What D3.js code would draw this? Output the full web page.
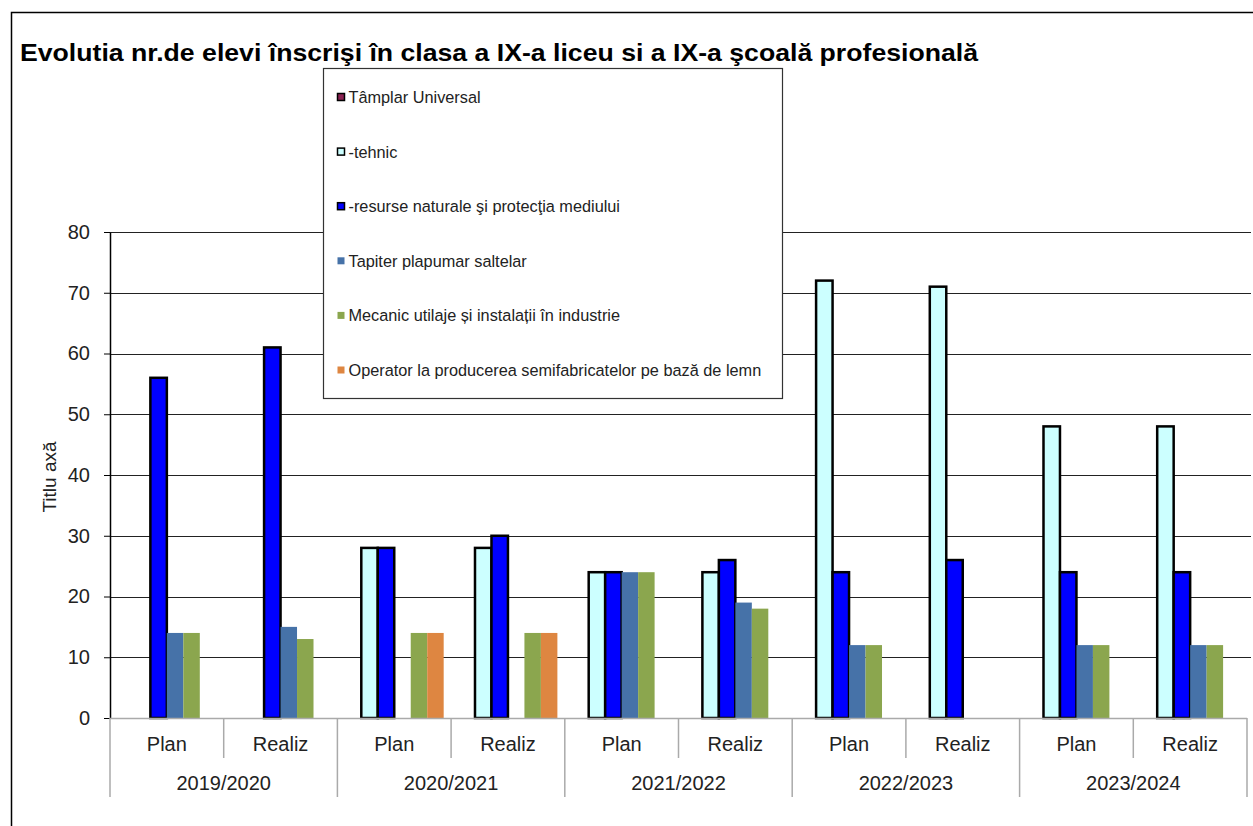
<!DOCTYPE html>
<html>
<head>
<meta charset="utf-8">
<script src="https://cdn.jsdelivr.net/npm/d3@7"></script>
<style>
  body { margin: 0; background: #fff; }
  svg { font-family: "Liberation Sans", Arial, sans-serif; }
</style>
</head>
<body>
<div id="chart"></div>
<script>
// chart data
const years = ['2019/2020', '2020/2021', '2021/2022', '2022/2023', '2023/2024'];
const kinds = ['Plan', 'Realiz'];
const seriesNames = [
  'Tâmplar Universal',
  '-tehnic',
  '-resurse naturale şi protecţia mediului',
  'Tapiter plapumar saltelar',
  'Mecanic utilaje și instalații în industrie',
  'Operator la producerea semifabricatelor pe bază de lemn'
];
// one value per category: 2019 Plan, 2019 Realiz, 2020 Plan, ...
const tamplar  = [0, 0, 0, 0, 0, 0, 0, 0, 0, 0];
const tehnic   = [0, 0, 28, 28, 24, 24, 72, 71, 48, 48];
const resurse  = [56, 61, 28, 30, 24, 26, 24, 26, 24, 24];
const tapiter  = [14, 15, 0, 0, 24, 19, 12, 0, 12, 12];
const mecanic  = [14, 13, 14, 14, 24, 18, 12, 0, 12, 12];
const operator = [0, 0, 14, 14, 0, 0, 0, 0, 0, 0];
const yTicks = [0, 10, 20, 30, 40, 50, 60, 70, 80];

const seriesValues = [tamplar, tehnic, resurse, tapiter, mecanic, operator];
const colors = ['#8B2252', '#CCFFFF', '#0000FF', '#4672A8', '#8BA64E', '#DE8641'];
const outlined = [true, true, true, false, false, false];

const width = 1253, height = 826;
const margin = {top: 232, right: 6, bottom: 108, left: 110};

const svg = d3.select('#chart').append('svg')
  .attr('width', width).attr('height', height);

// outer frame
svg.append('path')
  .attr('d', `M11.5,${height} V12.5 H${width}`)
  .attr('fill', 'none').attr('stroke', '#000').attr('stroke-width', 1.5);

svg.append('text')
  .attr('x', 20).attr('y', 61)
  .attr('font-size', 24.5).attr('font-weight', 'bold')
  .attr('textLength', 958).attr('lengthAdjust', 'spacingAndGlyphs')
  .text('Evolutia nr.de elevi înscrişi în  clasa a IX-a liceu si a IX-a şcoală profesională');

const categories = [];
years.forEach(y => kinds.forEach(k => categories.push(y + '|' + k)));

const plotW = width - margin.left - margin.right;
const plotH = height - margin.top - margin.bottom;

const x = d3.scaleBand(categories, [0, plotW]);
const xInner = d3.scaleBand(d3.range(seriesNames.length), [0, x.bandwidth()])
  .paddingInner(0).paddingOuter(0.45);
const y = d3.scaleLinear([0, 80], [plotH, 0]);

const chart = svg.append('g')
  .attr('transform', `translate(${margin.left},${margin.top})`);

// gridlines
chart.append('g').selectAll('line')
  .data(yTicks.filter(d => d > 0))
  .join('line')
  .attr('x1', 0).attr('x2', plotW + 4)
  .attr('y1', d => Math.round(y(d)) + 0.5).attr('y2', d => Math.round(y(d)) + 0.5)
  .attr('stroke', '#222').attr('stroke-width', 1.2);

// y axis
const axisY = chart.append('g').call(d3.axisLeft(y).tickValues(yTicks).tickSize(6).tickSizeOuter(0));
axisY.select('.domain').attr('stroke', '#000').attr('stroke-width', 1.5);
axisY.selectAll('.tick line').attr('stroke', '#000');
axisY.selectAll('.tick text')
  .attr('font-size', 20).attr('fill', '#222').attr('x', -20)
  .attr('font-family', '"Liberation Sans", Arial, sans-serif');

svg.append('text')
  .attr('transform', `translate(56,477)rotate(-90)`)
  .attr('text-anchor', 'middle').attr('font-size', 19).attr('fill', '#222')
  .text('Titlu axă');

// bars
const groups = chart.selectAll('g.cat')
  .data(categories)
  .join('g').classed('cat', true)
  .attr('transform', d => `translate(${x(d)},0)`);

groups.selectAll('rect')
  .data((d, i) => seriesValues.map((vals, s) => ({s, v: vals[i]})).filter(e => e.v > 0))
  .join('rect')
  .attr('x', e => xInner(e.s))
  .attr('width', xInner.bandwidth())
  .attr('y', e => y(e.v))
  .attr('height', e => plotH - y(e.v))
  .attr('fill', e => colors[e.s])
  .attr('stroke', e => outlined[e.s] ? '#000' : 'none')
  .attr('stroke-width', 2.5);

// category axis
const axisX = chart.append('g').attr('transform', `translate(0,${plotH})`);
axisX.append('line')
  .attr('x1', 0).attr('x2', plotW).attr('y1', 0.5).attr('y2', 0.5)
  .attr('stroke', '#aaa').attr('stroke-width', 1.5);
axisX.selectAll('line.sep')
  .data(categories.concat(['end']))
  .join('line').classed('sep', true)
  .attr('x1', (d, i) => i * x.step()).attr('x2', (d, i) => i * x.step())
  .attr('y1', 0).attr('y2', (d, i) => i % 2 === 0 ? 79 : 40)
  .attr('stroke', '#aaa').attr('stroke-width', 1.5);
axisX.selectAll('text.kind')
  .data(categories)
  .join('text').classed('kind', true)
  .attr('x', d => x(d) + x.bandwidth() / 2).attr('y', 33)
  .attr('text-anchor', 'middle').attr('font-size', 20).attr('fill', '#222')
  .text(d => d.split('|')[1]);
axisX.selectAll('text.year')
  .data(years)
  .join('text').classed('year', true)
  .attr('x', (d, i) => x(d + '|Plan') + x.step()).attr('y', 72)
  .attr('text-anchor', 'middle').attr('font-size', 20).attr('fill', '#222')
  .text(d => d);

// legend
const legend = svg.append('g').attr('transform', 'translate(323.5,68.5)');
legend.append('rect')
  .attr('width', 459).attr('height', 330)
  .attr('fill', '#fff').attr('stroke', '#333').attr('stroke-width', 1.2);
const items = legend.selectAll('g.item')
  .data(seriesNames)
  .join('g').classed('item', true)
  .attr('transform', (d, i) => `translate(0,${29 + i * 54.6})`);
items.append('rect')
  .attr('x', 14).attr('y', -4).attr('width', 7).attr('height', 7)
  .attr('fill', (d, i) => colors[i])
  .attr('stroke', (d, i) => outlined[i] ? '#000' : 'none')
  .attr('stroke-width', 1.5);
items.append('text')
  .attr('x', 25).attr('y', 5.5)
  .attr('font-size', 16.3).attr('fill', '#222')
  .text(d => d);
</script>
</body>
</html>
